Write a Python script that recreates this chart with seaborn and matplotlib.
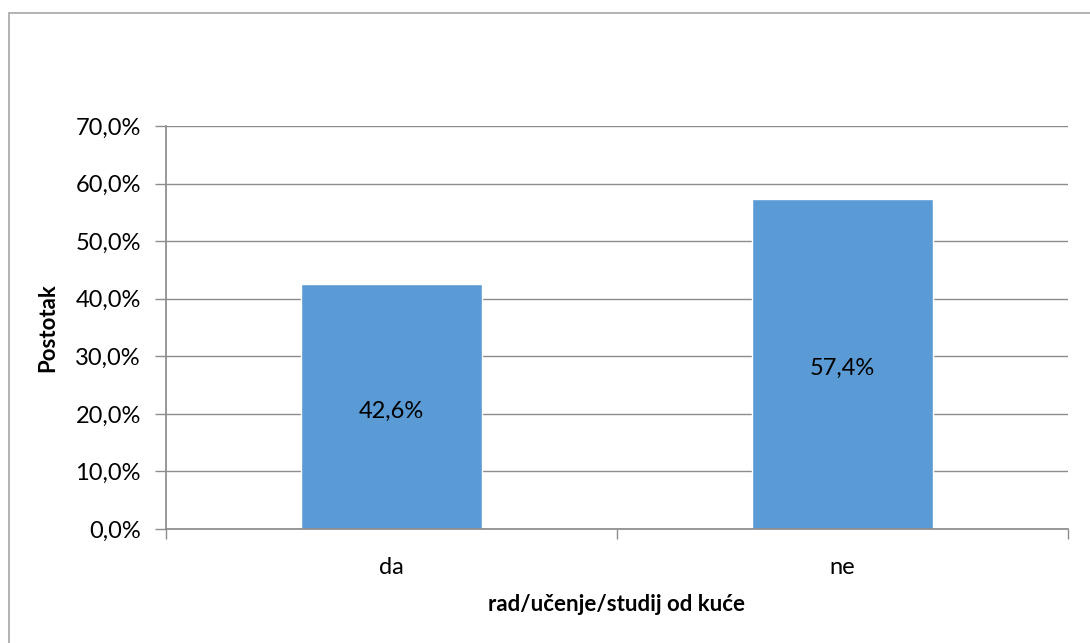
import matplotlib
matplotlib.use('Agg')
import matplotlib.pyplot as plt
import seaborn as sns
import pandas as pd
from matplotlib.ticker import FuncFormatter, FixedLocator

# Data
categories = ["da", "ne"]
values = [42.6, 57.4]
y_ticks = [0, 10, 20, 30, 40, 50, 60, 70]

sns.set_theme(style="white")
plt.rcParams['font.family'] = ['Lato', 'DejaVu Sans']
plt.rcParams['text.color'] = 'black'

df = pd.DataFrame({"kat": categories, "pct": values})

fig = plt.figure(figsize=(10.9, 6.43), dpi=100)
ax = fig.add_axes([166 / 1090, 1 - 529 / 643, (1068 - 166) / 1090, (529 - 126) / 643])

sns.barplot(data=df, x="kat", y="pct", color="#5B9BD5", width=0.4, saturation=1, ax=ax, zorder=3)

ax.set_xlim(-0.5, 1.5)
ax.set_ylim(0, 70)
ax.set_yticks(y_ticks)
ax.yaxis.set_major_formatter(FuncFormatter(lambda v, p: f"{v:.1f}%".replace(".", ",")))
ax.grid(axis="y", color="#8c8c8c", linewidth=1, zorder=0)

# category boundary ticks
ax.xaxis.set_minor_locator(FixedLocator([-0.5, 0.5, 1.5]))
ax.tick_params(axis="x", which="major", length=0, labelsize=17, pad=20, labelcolor="black")
ax.tick_params(axis="x", which="minor", length=7, width=1, color="#8c8c8c", bottom=True)
ax.tick_params(axis="y", which="major", length=8, width=1, color="#8c8c8c", left=True,
               labelsize=17, pad=10, labelcolor="black")

for side in ["top", "right"]:
    ax.spines[side].set_visible(False)
for side in ["left", "bottom"]:
    ax.spines[side].set_color("#8c8c8c")
    ax.spines[side].set_zorder(4)

for i, v in enumerate(values):
    ax.text(i, v / 2 - 0.8, f"{v:.1f}%".replace(".", ","), ha="center", va="center",
            fontsize=17, color="black", zorder=5)

ax.set_xlabel("rad/učenje/studij od kuće", fontsize=16, fontweight="bold", labelpad=12, color="black")
ax.set_ylabel("Postotak", fontsize=16, fontweight="bold", labelpad=12, color="black")

# outer chart border (left and top visible)
fig.add_artist(plt.Rectangle((9 / 1090, -0.05), 1.2, 1 - 13 / 643 + 0.05,
                             transform=fig.transFigure, fill=False,
                             edgecolor="#a6a6a6", linewidth=1.2))

fig.savefig("out.png", dpi=100)
